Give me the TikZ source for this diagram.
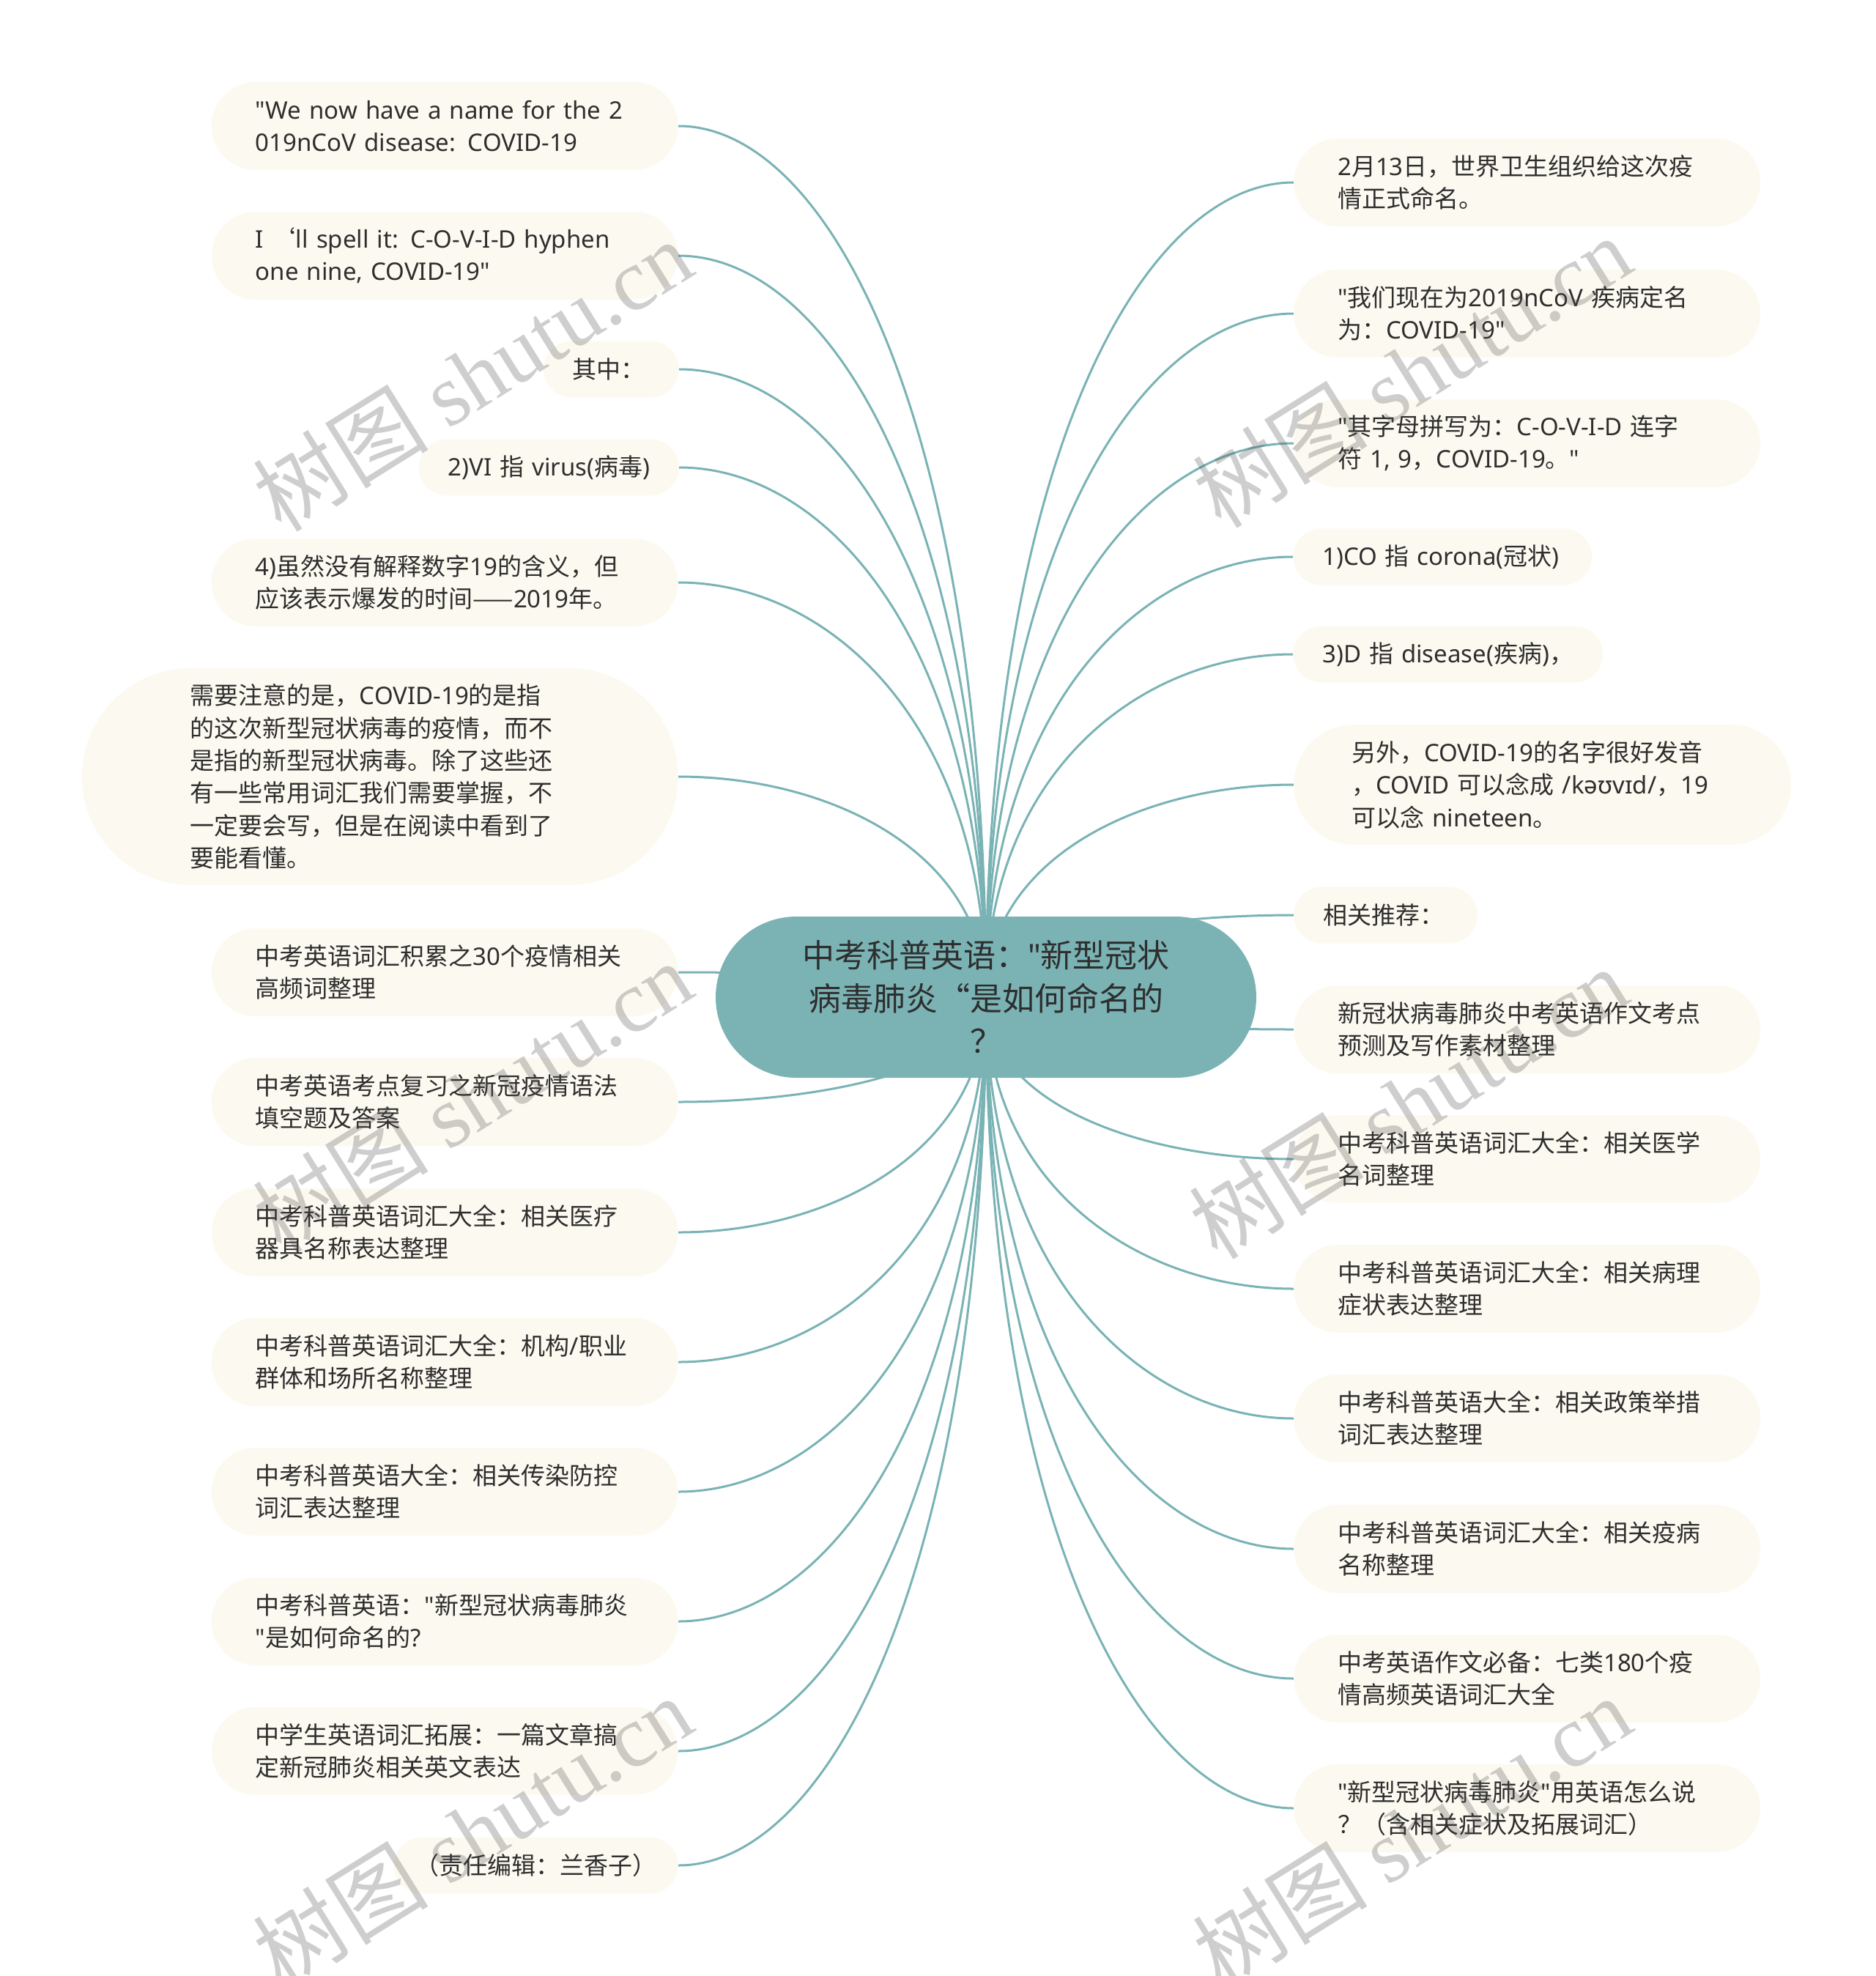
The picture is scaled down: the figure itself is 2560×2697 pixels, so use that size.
\documentclass[tikz,border=0pt]{standalone}
\usepackage{fontspec}
\setmainfont{Noto Sans}[Ligatures=TeXOff]
\newfontfamily\latinfont{Noto Sans}[Ligatures=TeXOff]
\newfontfamily\cjkfont{Noto Sans CJK SC}[Ligatures=TeXOff]
\newfontfamily\wmserif{Liberation Serif}
\usetikzlibrary{calc,backgrounds}
\newXeTeXintercharclass\CJKcls
\newcount\cjkcnt
\newcommand\setcjkrange[2]{\cjkcnt=#1\relax
  \loop\XeTeXcharclass\cjkcnt=\CJKcls\relax
  \ifnum\cjkcnt<#2\relax\advance\cjkcnt by 1\relax\repeat}
\setcjkrange{"2018}{"201D}
\setcjkrange{"2014}{"2014}
\setcjkrange{"3000}{"303F}
\setcjkrange{"4E00}{"9FFF}
\setcjkrange{"FF00}{"FFEF}
\XeTeXinterchartoks 0 \CJKcls = {\cjkfont}
\XeTeXinterchartoks 4095 \CJKcls = {\cjkfont}
\XeTeXinterchartoks \CJKcls 0 = {\latinfont}
\XeTeXinterchartoks \CJKcls 4095 = {\latinfont}
\XeTeXinterchartokenstate=1
\newcommand\nbx[1]{\mbox{#1}}
\newcommand\wmtext{\XeTeXinterchartokenstate=0\relax\cjkfont 树图\ \wmserif shutu.cn}
\definecolor{rootc}{HTML}{7BB3B5}
\definecolor{edgec}{HTML}{7AB3B5}
\definecolor{leafc}{HTML}{FCFAF0}
\definecolor{txtc}{HTML}{2E2E2E}
\begin{document}
\begin{tikzpicture}[x=1pt,y=-1pt,
  root/.style={fill=rootc, minimum width=738, minimum height=220, rounded corners=110,
    inner sep=0pt, align=center, text=txtc, font=\fontsize{44}{58.5}\selectfont},
  leaftwo/.style={fill=leafc, rounded corners=60, text width=517, inner xsep=60, inner ysep=0pt,
    minimum height=120, align=left, text=txtc, font=\fontsize{33}{44}\selectfont},
  leafone/.style={fill=leafc, rounded corners=38.5, inner xsep=40, inner ysep=0pt,
    minimum height=77, align=left, text=txtc, font=\fontsize{33}{44}\selectfont},
  leafbig/.style={fill=leafc, rounded corners=148, text width=518, inner xsep=148, inner ysep=0pt,
    minimum height=296, align=left, text=txtc, font=\fontsize{33}{44.4}\selectfont},
  leafthree/.style={fill=leafc, rounded corners=82, text width=521, inner xsep=79, inner ysep=0pt,
    minimum height=164, align=left, text=txtc, font=\fontsize{33}{44.5}\selectfont},
  edge/.style={draw=edgec, line width=3pt},
  wm/.style={rotate=32, text=black!70, text opacity=0.27, inner sep=0pt,
    font=\fontsize{120}{120}\selectfont}
]
\useasboundingbox (0,0) rectangle (2560,2697);

% central topic
\node[root] (root) at (1346,1361) {中考科普英语："新型冠状\\病毒肺炎“是如何命名的\\？};

% left branches
\node[leaftwo, anchor=east] (L1) at (926,172) {\nbx{"We now have a name for the 2}\\\nbx{019nCoV disease: COVID-19}};
\node[leaftwo, anchor=east] (L2) at (926,349) {\nbx{I ‘ll spell it: C-O-V-I-D hyphen}\\\nbx{one nine, COVID-19"}};
\node[leafone, anchor=east, text width=105] (L3) at (927,504) {\nbx{其中：}};
\node[leafone, anchor=east, text width=275] (L4) at (927,638) {\nbx{2)VI 指 virus(病毒)}};
\node[leaftwo, anchor=east] (L5) at (926,795) {\nbx{4)虽然没有解释数字19的含义，但}\\\nbx{应该表示爆发的时间——2019年。}};
\node[leafbig, anchor=east] (L6) at (926,1060) {\nbx{需要注意的是，COVID-19的是指}\\\nbx{的这次新型冠状病毒的疫情，而不}\\\nbx{是指的新型冠状病毒。除了这些还}\\\nbx{有一些常用词汇我们需要掌握，不}\\\nbx{一定要会写，但是在阅读中看到了}\\\nbx{要能看懂。}};
\node[leaftwo, anchor=east] (L7) at (926,1327) {\nbx{中考英语词汇积累之30个疫情相关}\\\nbx{高频词整理}};
\node[leaftwo, anchor=east] (L8) at (926,1504) {\nbx{中考英语考点复习之新冠疫情语法}\\\nbx{填空题及答案}};
\node[leaftwo, anchor=east] (L9) at (926,1682) {\nbx{中考科普英语词汇大全：相关医疗}\\\nbx{器具名称表达整理}};
\node[leaftwo, anchor=east] (L10) at (926,1859) {\nbx{中考科普英语词汇大全：机构/职业}\\\nbx{群体和场所名称整理}};
\node[leaftwo, anchor=east] (L11) at (926,2036) {\nbx{中考科普英语大全：相关传染防控}\\\nbx{词汇表达整理}};
\node[leaftwo, anchor=east] (L12) at (926,2213) {\nbx{中考科普英语："新型冠状病毒肺炎}\\\nbx{"是如何命名的?}};
\node[leaftwo, anchor=east] (L13) at (926,2390) {\nbx{中学生英语词汇拓展：一篇文章搞}\\\nbx{定新冠肺炎相关英文表达}};
\node[leafone, anchor=east, text width=338, inner xsep=25, align=center] (L14) at (926,2546) {\nbx{（责任编辑：兰香子）}};

% right branches
\node[leaftwo, anchor=west] (R1) at (1766,249) {\nbx{2月13日，世界卫生组织给这次疫}\\\nbx{情正式命名。}};
\node[leaftwo, anchor=west] (R2) at (1766,428) {\nbx{"我们现在为2019nCoV 疾病定名}\\\nbx{为：COVID-19"}};
\node[leaftwo, anchor=west] (R3) at (1766,605) {\nbx{"其字母拼写为：C-O-V-I-D 连字}\\\nbx{符 1, 9，COVID-19。"}};
\node[leafone, anchor=west, text width=328] (R4) at (1765,760) {\nbx{1)CO 指 corona(冠状)}};
\node[leafone, anchor=west, text width=343] (R5) at (1765,893) {\nbx{3)D 指 disease(疾病)，}};
\node[leafthree, anchor=west] (R6) at (1766,1071) {\nbx{另外，COVID-19的名字很好发音}\\\nbx{，COVID 可以念成 /kəʊvɪd/，19}\\\nbx{可以念 nineteen。}};
\node[leafone, anchor=west, text width=171] (R7) at (1766,1249) {\nbx{相关推荐：}};
\node[leaftwo, anchor=west] (R8) at (1766,1405) {\nbx{新冠状病毒肺炎中考英语作文考点}\\\nbx{预测及写作素材整理}};
\node[leaftwo, anchor=west] (R9) at (1766,1582) {\nbx{中考科普英语词汇大全：相关医学}\\\nbx{名词整理}};
\node[leaftwo, anchor=west] (R10) at (1766,1759) {\nbx{中考科普英语词汇大全：相关病理}\\\nbx{症状表达整理}};
\node[leaftwo, anchor=west] (R11) at (1766,1936) {\nbx{中考科普英语大全：相关政策举措}\\\nbx{词汇表达整理}};
\node[leaftwo, anchor=west] (R12) at (1766,2114) {\nbx{中考科普英语词汇大全：相关疫病}\\\nbx{名称整理}};
\node[leaftwo, anchor=west] (R13) at (1766,2291) {\nbx{中考英语作文必备：七类180个疫}\\\nbx{情高频英语词汇大全}};
\node[leaftwo, anchor=west] (R14) at (1766,2468) {\nbx{"新型冠状病毒肺炎"用英语怎么说}\\\nbx{？（含相关症状及拓展词汇）}};

% connectors
\begin{pgfonlayer}{background}
\fill[white] (0,0) rectangle (2560,2697);
\foreach \n in {L1,L2,L3,L4,L5,L6,L7,L8,L9,L10,L11,L12,L13,L14}
  \draw[edge] (root.center) .. controls ($(root.center)!0.65!(root.center|-\n.east)$) and ($(\n.east)!0.5!(root.center|-\n.east)$) .. (\n.east);
\foreach \n in {R1,R2,R3,R4,R5,R6,R7,R8,R9,R10,R11,R12,R13,R14}
  \draw[edge] (root.center) .. controls ($(root.center)!0.65!(root.center|-\n.west)$) and ($(\n.west)!0.5!(root.center|-\n.west)$) .. (\n.west);
\end{pgfonlayer}

% watermarks
\node[wm] (wm1) at (645,512) {\wmtext};
\node[wm] (wm2) at (1927,507) {\wmtext};
\node[wm] (wm3) at (645,1497) {\wmtext};
\node[wm] (wm4) at (1922,1505) {\wmtext};
\node[wm] (wm5) at (645,2500) {\wmtext};
\node[wm] (wm6) at (1927,2500) {\wmtext};
\end{tikzpicture}
\end{document}
